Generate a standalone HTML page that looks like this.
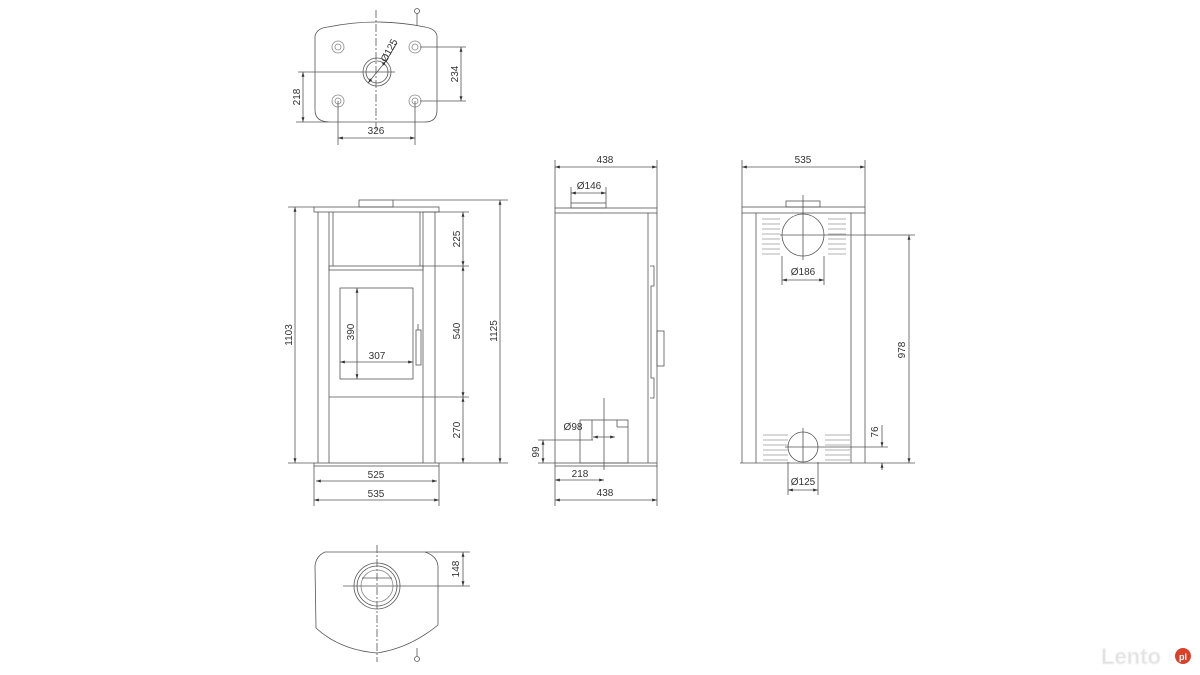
<!DOCTYPE html>
<html><head><meta charset="utf-8"><style>
html,body{margin:0;padding:0;background:#fff;}
svg{display:block;}
text{font-family:"Liberation Sans",sans-serif;font-size:10px;fill:#333;}
</style></head><body>
<svg width="1200" height="675" viewBox="0 0 1200 675" xmlns="http://www.w3.org/2000/svg">
<defs>
<marker id="a" viewBox="0 0 10 10" refX="10" refY="5" markerWidth="6" markerHeight="6" orient="auto-start-reverse"><path d="M0,2 L10,5 L0,8 Z" fill="#333"/></marker>
</defs>
<g stroke="#555" stroke-width="0.8" fill="none">
<!-- TOP PLAN -->
<path d="M315,36 Q317,28 328,27 Q377,17 425,27 Q436,29 437,36 L437,110 Q437,122 425,122 L330,122 Q315,122 315,110 Z"/>
<g stroke="#888">
<circle cx="338" cy="47" r="6"/><circle cx="338" cy="47" r="3"/>
<circle cx="415" cy="47" r="6"/><circle cx="415" cy="47" r="3"/>
<circle cx="338" cy="101" r="6"/><circle cx="338" cy="101" r="3"/>
<circle cx="415" cy="101" r="6"/><circle cx="415" cy="101" r="3"/>
</g>
<circle cx="377" cy="72" r="14"/><circle cx="377" cy="72" r="11"/>
<line x1="376" y1="10" x2="376" y2="132" stroke-dasharray="8,2,2,2"/>
<line x1="298" y1="72" x2="395" y2="72"/>
<line x1="420" y1="47" x2="466" y2="47"/><line x1="420" y1="101" x2="466" y2="101"/>
<line x1="461" y1="47" x2="461" y2="101" marker-start="url(#a)" marker-end="url(#a)"/>
<line x1="296" y1="122" x2="328" y2="122"/>
<line x1="303" y1="72" x2="303" y2="122" marker-start="url(#a)" marker-end="url(#a)"/>
<line x1="338" y1="101" x2="338" y2="145"/><line x1="415" y1="101" x2="415" y2="145"/>
<line x1="338" y1="138" x2="415" y2="138" marker-start="url(#a)" marker-end="url(#a)"/>
<line x1="368" y1="83" x2="386" y2="61" marker-start="url(#a)" marker-end="url(#a)"/>
<line x1="386" y1="61" x2="397" y2="43"/>
<line x1="417" y1="13" x2="417" y2="26"/><circle cx="417" cy="11" r="2.5"/>
<!-- FRONT VIEW -->
<rect x="359" y="200" width="34" height="7"/>
<rect x="314" y="207" width="125" height="5"/>
<line x1="318" y1="212" x2="318" y2="463"/><line x1="435" y1="212" x2="435" y2="463"/>
<line x1="329" y1="212" x2="329" y2="463"/><line x1="423" y1="212" x2="423" y2="463"/>
<line x1="333" y1="212" x2="333" y2="266"/><line x1="420" y1="212" x2="420" y2="266"/>
<rect x="329" y="266" width="94" height="4"/>
<line x1="329" y1="397" x2="423" y2="397"/>
<rect x="340" y="288" width="73" height="91"/>
<rect x="416" y="330" width="5" height="35"/><line x1="418" y1="324" x2="418" y2="330"/>
<rect x="314" y="463" width="125" height="3"/>
<line x1="288" y1="207" x2="314" y2="207"/><line x1="288" y1="463" x2="314" y2="463"/>
<line x1="295" y1="207" x2="295" y2="463" marker-start="url(#a)" marker-end="url(#a)"/>
<line x1="393" y1="200" x2="508" y2="200"/><line x1="439" y1="463" x2="508" y2="463"/>
<line x1="500" y1="200" x2="500" y2="463" marker-start="url(#a)" marker-end="url(#a)"/>
<line x1="423" y1="212" x2="469" y2="212"/><line x1="423" y1="266" x2="469" y2="266"/><line x1="423" y1="397" x2="469" y2="397"/>
<line x1="463" y1="212" x2="463" y2="266" marker-start="url(#a)" marker-end="url(#a)"/>
<line x1="463" y1="266" x2="463" y2="397" marker-start="url(#a)" marker-end="url(#a)"/>
<line x1="463" y1="397" x2="463" y2="463" marker-start="url(#a)" marker-end="url(#a)"/>
<line x1="314" y1="466" x2="314" y2="506"/><line x1="439" y1="466" x2="439" y2="506"/>
<line x1="316" y1="481" x2="437" y2="481" marker-start="url(#a)" marker-end="url(#a)"/>
<line x1="314" y1="500" x2="439" y2="500" marker-start="url(#a)" marker-end="url(#a)"/>
<line x1="357" y1="288" x2="357" y2="379" marker-start="url(#a)" marker-end="url(#a)"/>
<line x1="340" y1="362" x2="413" y2="362" marker-start="url(#a)" marker-end="url(#a)"/>
<!-- SIDE VIEW -->
<rect x="571" y="203" width="35" height="5"/>
<rect x="555" y="208" width="102" height="5"/>
<line x1="555" y1="213" x2="555" y2="463"/><line x1="657" y1="213" x2="657" y2="463"/>
<line x1="648" y1="213" x2="648" y2="463"/>
<path d="M650,266 L654,266 L654,286 L651,286 L651,378 L654,378 L654,398 L650,398"/>
<rect x="657" y="331" width="7" height="35"/>
<rect x="555" y="463" width="102" height="3"/>
<rect x="580" y="420" width="48" height="43"/>
<line x1="592" y1="420" x2="592" y2="440"/><line x1="617" y1="420" x2="617" y2="427"/><line x1="617" y1="427" x2="628" y2="427"/>
<line x1="604" y1="398" x2="604" y2="470"/>
<line x1="593" y1="437" x2="615" y2="437" marker-start="url(#a)" marker-end="url(#a)"/>
<line x1="538" y1="440" x2="593" y2="440"/>
<line x1="543" y1="440" x2="543" y2="463" marker-start="url(#a)" marker-end="url(#a)"/>
<line x1="538" y1="463" x2="555" y2="463"/>
<line x1="555" y1="160" x2="555" y2="208"/><line x1="657" y1="160" x2="657" y2="208"/>
<line x1="555" y1="167" x2="657" y2="167" marker-start="url(#a)" marker-end="url(#a)"/>
<line x1="571" y1="187" x2="571" y2="203"/><line x1="606" y1="187" x2="606" y2="203"/>
<line x1="571" y1="193" x2="606" y2="193" marker-start="url(#a)" marker-end="url(#a)"/>
<line x1="555" y1="466" x2="555" y2="506"/><line x1="657" y1="466" x2="657" y2="506"/>
<line x1="555" y1="480" x2="604" y2="480" marker-start="url(#a)" marker-end="url(#a)"/>
<line x1="555" y1="500" x2="657" y2="500" marker-start="url(#a)" marker-end="url(#a)"/>
<!-- BACK VIEW -->
<rect x="786" y="201" width="34" height="6"/>
<rect x="742" y="207" width="123" height="6"/>
<line x1="742" y1="213" x2="742" y2="463"/><line x1="865" y1="213" x2="865" y2="463"/>
<line x1="756" y1="213" x2="756" y2="463"/><line x1="851" y1="213" x2="851" y2="463"/>
<line x1="740" y1="463" x2="866" y2="463"/>
<circle cx="803" cy="235" r="21"/>
<line x1="803" y1="195" x2="803" y2="260"/><line x1="780" y1="235" x2="915" y2="235"/>
<circle cx="803" cy="447" r="15"/>
<line x1="803" y1="428" x2="803" y2="462"/><line x1="785" y1="447" x2="888" y2="447"/>
<g stroke="#999">
<path d="M762,219h18M762,224h18M762,229h18M762,234h18M762,239h18M762,244h18M762,249h18M762,254h18"/>
<path d="M828,219h18M828,224h18M828,229h18M828,234h18M828,239h18M828,244h18M828,249h18M828,254h18"/>
<path d="M763,435h25M763,440h25M763,445h25M763,450h25M763,455h25M763,460h25"/>
<path d="M825,435h25M825,440h25M825,445h25M825,450h25M825,455h25M825,460h25"/>
</g>
<line x1="782" y1="256" x2="782" y2="285"/><line x1="824" y1="256" x2="824" y2="285"/>
<line x1="782" y1="280" x2="824" y2="280" marker-start="url(#a)" marker-end="url(#a)"/>
<line x1="788" y1="462" x2="788" y2="495"/><line x1="818" y1="462" x2="818" y2="495"/>
<line x1="788" y1="490" x2="818" y2="490" marker-start="url(#a)" marker-end="url(#a)"/>
<line x1="742" y1="160" x2="742" y2="207"/><line x1="865" y1="160" x2="865" y2="207"/>
<line x1="742" y1="167" x2="865" y2="167" marker-start="url(#a)" marker-end="url(#a)"/>
<line x1="866" y1="463" x2="915" y2="463"/>
<line x1="909" y1="235" x2="909" y2="463" marker-start="url(#a)" marker-end="url(#a)"/>
<line x1="882" y1="425" x2="882" y2="447" marker-end="url(#a)"/>
<line x1="882" y1="463" x2="882" y2="470" />
<line x1="882" y1="470" x2="882" y2="463" marker-end="url(#a)"/>
<!-- BOTTOM VIEW -->
<path d="M325,552 L425,552 Q437,556 438,566 L438,625 Q410,648 377,653 Q340,650 316,628 L315,566 Q316,556 325,552 Z"/>
<circle cx="377" cy="586" r="23"/><circle cx="377" cy="586" r="20"/><circle cx="377" cy="586" r="16" stroke="#888"/>
<line x1="362" y1="578" x2="392" y2="578"/>
<line x1="377" y1="545" x2="377" y2="662" stroke-dasharray="8,2,2,2"/>
<line x1="343" y1="586" x2="470" y2="586"/><line x1="425" y1="552" x2="470" y2="552"/>
<line x1="463" y1="552" x2="463" y2="586" marker-start="url(#a)" marker-end="url(#a)"/>
<line x1="417" y1="648" x2="417" y2="656"/><circle cx="417" cy="659" r="2.5"/>
</g>
<!-- labels -->
<text transform="translate(392,52) rotate(-62)" text-anchor="middle">Ø125</text>
<text transform="translate(458,74) rotate(-90)" text-anchor="middle">234</text>
<text transform="translate(300,97) rotate(-90)" text-anchor="middle">218</text>
<text x="376" y="134" text-anchor="middle">326</text>
<text transform="translate(292,335) rotate(-90)" text-anchor="middle">1103</text>
<text transform="translate(497,331) rotate(-90)" text-anchor="middle">1125</text>
<text transform="translate(460,239) rotate(-90)" text-anchor="middle">225</text>
<text transform="translate(460,331) rotate(-90)" text-anchor="middle">540</text>
<text transform="translate(460,430) rotate(-90)" text-anchor="middle">270</text>
<text transform="translate(354,332) rotate(-90)" text-anchor="middle">390</text>
<text x="377" y="359" text-anchor="middle">307</text>
<text x="376" y="478" text-anchor="middle">525</text>
<text x="376" y="497" text-anchor="middle">535</text>
<text x="605" y="163" text-anchor="middle">438</text>
<text x="589" y="189" text-anchor="middle">Ø146</text>
<text x="573" y="430" text-anchor="middle">Ø98</text>
<text transform="translate(539,452) rotate(-90)" text-anchor="middle">99</text>
<text x="580" y="477" text-anchor="middle">218</text>
<text x="605" y="496" text-anchor="middle">438</text>
<text x="803" y="163" text-anchor="middle">535</text>
<text x="803" y="275" text-anchor="middle">Ø186</text>
<text x="803" y="485" text-anchor="middle">Ø125</text>
<text transform="translate(905,350) rotate(-90)" text-anchor="middle">978</text>
<text transform="translate(878,432) rotate(-90)" text-anchor="middle">76</text>
<text transform="translate(459,569) rotate(-90)" text-anchor="middle">148</text>
<!-- logo -->
<text x="1101" y="664" style="font-size:22px;font-weight:bold;fill:#e2e2e2;stroke:#f4f4f4;stroke-width:1">Lento</text>
<circle cx="1183" cy="656" r="8" fill="#d9412b"/>
<text x="1183" y="660" text-anchor="middle" style="font-size:9px;font-weight:bold;fill:#fff">pl</text>
</svg>
</body></html>
